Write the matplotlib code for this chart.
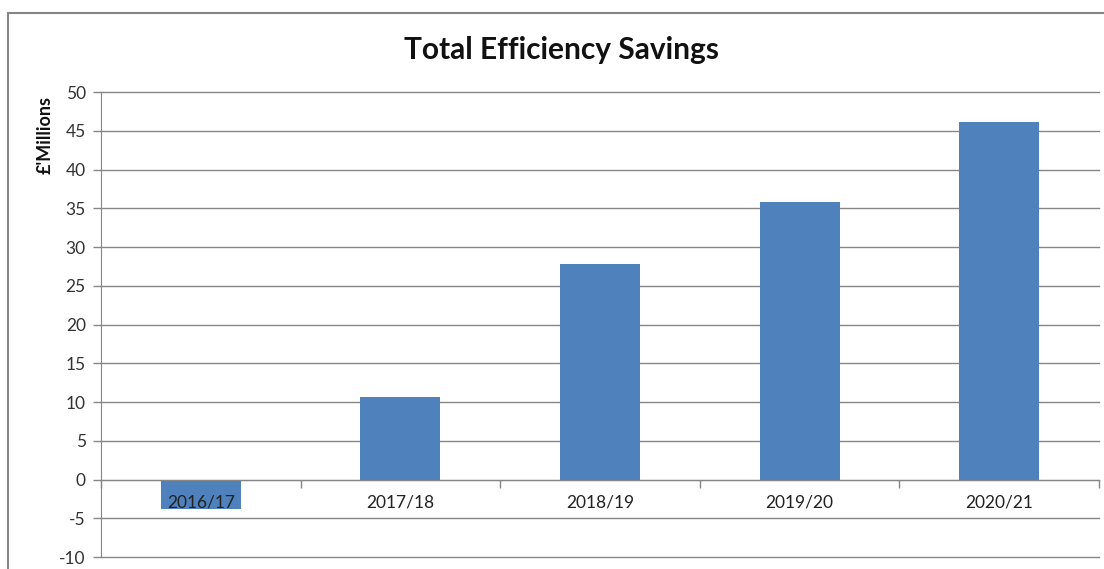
import matplotlib
matplotlib.use("Agg")
import matplotlib.pyplot as plt
from matplotlib.patches import Rectangle
from matplotlib.transforms import offset_copy

categories = ["2016/17", "2017/18", "2018/19", "2019/20", "2020/21"]
values = [-3.8, 10.7, 27.8, 35.8, 46.1]
yticks = list(range(-10, 55, 5))

plt.rcParams['font.family'] = ['Lato', 'DejaVu Sans']

fig = plt.figure(figsize=(11.04, 5.69), dpi=100)
fig.patch.set_facecolor('white')

# chart border
fig.add_artist(Rectangle((8/1104, -0.05), 1.2, 1 - 13/569 + 0.05, transform=fig.transFigure,
                         fill=False, edgecolor='#868686', linewidth=1.5))

ax = fig.add_axes([101/1104, 1 - 557/569, (1099 - 101)/1104, (557 - 92)/569])
x = list(range(len(categories)))
ax.bar(x, values, width=0.4, color='#4F81BD', zorder=3)

ax.set_xlim(-0.5, len(categories) - 0.5)
ax.set_ylim(-10, 50)
ax.set_yticks(yticks)
ax.set_yticklabels([str(v) for v in yticks], fontsize=12.5, color='#333333')
ax.yaxis.grid(True, color='#868686', linewidth=1)
for gl in ax.get_ygridlines():
    gl.set_clip_on(False)
ax.set_axisbelow(True)
ax.tick_params(axis='y', length=6, color='#868686', width=1, pad=5)

for s in ['top', 'right']:
    ax.spines[s].set_visible(False)
ax.spines['left'].set_color('#868686')
ax.spines['bottom'].set_position(('data', 0))
ax.spines['bottom'].set_color('#868686')
ax.spines['bottom'].set_zorder(4)

ax.set_xticks([])
ax.set_xticks([i + 0.5 for i in range(-1, len(categories))], minor=True)
ax.tick_params(axis='x', which='minor', length=6, color='#868686', width=1, direction='out',
               labelbottom=False)
trans = offset_copy(ax.transData, fig=fig, x=0, y=-23, units='dots')
for xi, cat in zip(x, categories):
    ax.text(xi, 0, cat, transform=trans, ha='center', va='center', fontsize=12.5,
            color='#222222', zorder=6)

ax.set_ylabel("£'Millions", fontsize=13, fontweight='bold', color='#111111', va='center')
ax.yaxis.set_label_coords((45 - 101) / 998, (557 - 135) / 465)

fig.text(562/1104, 1 - 50/569, "Total Efficiency Savings", fontsize=21.5, fontweight='bold',
         ha='center', va='center', color='#111111')

fig.savefig("out.png", dpi=100)
